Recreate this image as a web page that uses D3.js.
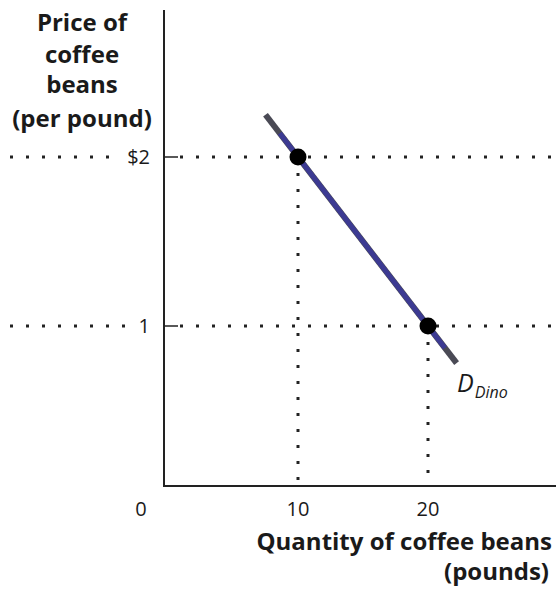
<!DOCTYPE html>
<html><head><meta charset="utf-8">
<script src="https://cdn.jsdelivr.net/npm/d3@7"></script>
<style>
body{margin:0;background:#fff;}
svg{display:block;}
text{font-family:"Open Sans",sans-serif;fill:#1a1a1a;}
</style></head>
<body><svg id="c" width="556" height="591"></svg>
<script>
const priceTicks = [2, 1];
const priceLabels = ["$2", "1"];
const qtyTicks = [0, 10, 20];
const qtyLabels = ["0", "10", "20"];
const points = [{q:10, p:2}, {q:20, p:1}];
const demandLine = [{q:7.5, p:2.25}, {q:22.2, p:0.78}];
const demandBlue = [{q:8.6, p:2.14}, {q:21.3, p:0.87}];
const yTitle = ["Price of", "coffee", "beans", "(per pound)"];
const xTitle = ["Quantity of coffee beans", "(pounds)"];
const curveLabel = "D";
const curveSub = "Dino";

const svg = d3.select("#c");
const x = d3.scaleLinear().domain([0, 30]).range([168, 558]);
const y = d3.scaleLinear().domain([0, 3]).range([495, -12]);
const axisX = 164, axisY = 486;

// axes
svg.append("line").attr("x1", axisX).attr("x2", axisX).attr("y1", 10).attr("y2", axisY)
  .attr("stroke", "#222").attr("stroke-width", 2);
svg.append("line").attr("x1", axisX - 1).attr("x2", 556).attr("y1", axisY).attr("y2", axisY)
  .attr("stroke", "#222").attr("stroke-width", 2);

// y ticks
priceTicks.forEach((p, i) => {
  svg.append("line").attr("x1", axisX).attr("x2", axisX + 14).attr("y1", y(p)).attr("y2", y(p))
    .attr("stroke", "#222").attr("stroke-width", 1.5);
  svg.append("text").attr("x", 150).attr("y", y(p)).attr("dy", "0.36em")
    .attr("text-anchor", "end").attr("font-size", 20).text(priceLabels[i]);
});

// dotted guide lines
const dot = sel => sel.attr("stroke", "#222").attr("stroke-width", 3)
  .attr("stroke-dasharray", "3,13").attr("fill", "none");
priceTicks.forEach((p, i) => {
  const leftEnd = i === 0 ? 118 : 130;
  svg.append("line").attr("x1", 10).attr("x2", leftEnd).attr("y1", y(p)).attr("y2", y(p)).call(dot);
  svg.append("line").attr("x1", axisX + 16).attr("x2", 556).attr("y1", y(p)).attr("y2", y(p)).call(dot);
});
points.forEach(d => {
  svg.append("line").attr("x1", x(d.q)).attr("x2", x(d.q)).attr("y1", y(d.p) + 16).attr("y2", axisY - 2).call(dot);
});

// x tick labels
qtyTicks.forEach((q, i) => {
  svg.append("text").attr("x", q === 0 ? 141 : x(q)).attr("y", 516)
    .attr("text-anchor", "middle").attr("font-size", 20).text(qtyLabels[i]);
});

// demand curve
const line = d3.line().x(d => x(d.q)).y(d => y(d.p));
svg.append("path").datum(demandLine).attr("d", line).attr("stroke", "#4a4a55")
  .attr("stroke-width", 6).attr("fill", "none");
svg.append("path").datum(demandBlue).attr("d", line).attr("stroke", "#3c3a92")
  .attr("stroke-width", 5).attr("fill", "none");

// points
svg.selectAll("circle.pt").data(points).join("circle").attr("class", "pt")
  .attr("cx", d => x(d.q)).attr("cy", d => y(d.p)).attr("r", 8.5).attr("fill", "#000");

// curve label
const lab = svg.append("text").attr("x", 457).attr("y", 392).attr("font-style", "italic").attr("font-size", 25);
lab.append("tspan").text(curveLabel);
lab.append("tspan").attr("font-size", 16).attr("dy", 6).attr("dx", 1).text(curveSub);

// y title
yTitle.forEach((t, i) => {
  svg.append("text").attr("x", 82).attr("y", [31, 63, 93, 127][i]).attr("text-anchor", "middle")
    .attr("font-weight", "bold").attr("font-size", 24).text(t);
});
// x title
xTitle.forEach((t, i) => {
  svg.append("text").attr("x", [552, 549][i]).attr("y", [550, 580][i]).attr("text-anchor", "end")
    .attr("font-weight", "bold").attr("font-size", 24).text(t);
});
</script></body></html>
